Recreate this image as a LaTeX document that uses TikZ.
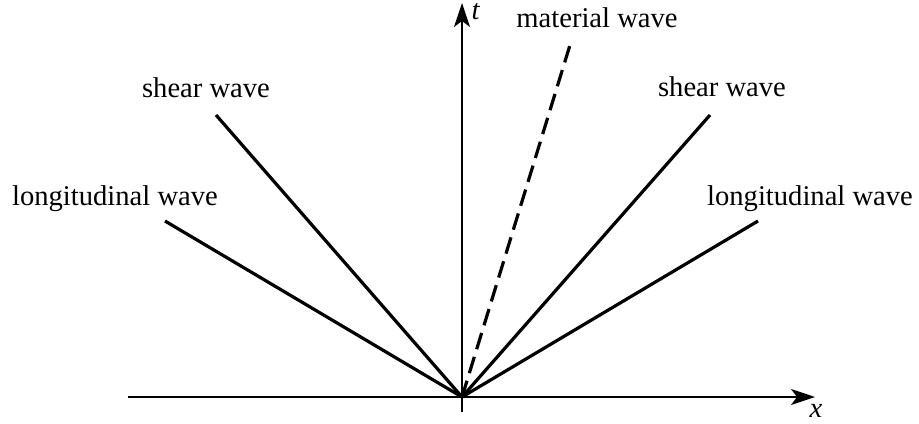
\documentclass[tikz,border=0pt]{standalone}
\usepackage{fontspec}
\setmainfont{Liberation Serif}
\usetikzlibrary{arrows.meta}
\begin{document}
\begin{tikzpicture}[x=0.5pt,y=-0.5pt,
  lbl/.style={anchor=base,inner sep=0pt,font=\fontsize{14.3}{17}\selectfont},
  axis/.style={line width=0.85pt,-{Stealth[length=12pt,width=8pt,inset=3pt]}},
  wave/.style={line width=1.6pt},
  mwave/.style={line width=1.6pt,dash pattern=on 8.5pt off 4pt}]
\useasboundingbox (0,0) rectangle (919,423);
\coordinate (O) at (462,397);
\coordinate (xs) at (128,397);
\coordinate (xe) at (815,397);
\coordinate (ts) at (462,412);
\coordinate (te) at (462,3);
\coordinate (ls) at (216,115);
\coordinate (ll) at (165,221);
\coordinate (rs) at (710,115);
\coordinate (rl) at (758,221);
\coordinate (mw) at (570,45);
\draw[axis] (xs) -- (xe);
\draw[axis] (ts) -- (te);
\draw[wave] (O) -- (ls);
\draw[wave] (O) -- (ll);
\draw[wave] (O) -- (rs);
\draw[wave] (O) -- (rl);
\draw[mwave] (O) -- (mw);
\node[lbl] (xl) at (816,417) {\textit{x}};
\node[lbl] (tl) at (476,19) {\textit{t}};
\node[lbl] (lsl) at (206,97) {shear wave};
\node[lbl] (lll) at (115,205) {longitudinal wave};
\node[lbl] (rsl) at (722,96) {shear wave};
\node[lbl] (rll) at (810,205) {longitudinal wave};
\node[lbl] (mwl) at (597,27) {material wave};
\end{tikzpicture}
\end{document}
